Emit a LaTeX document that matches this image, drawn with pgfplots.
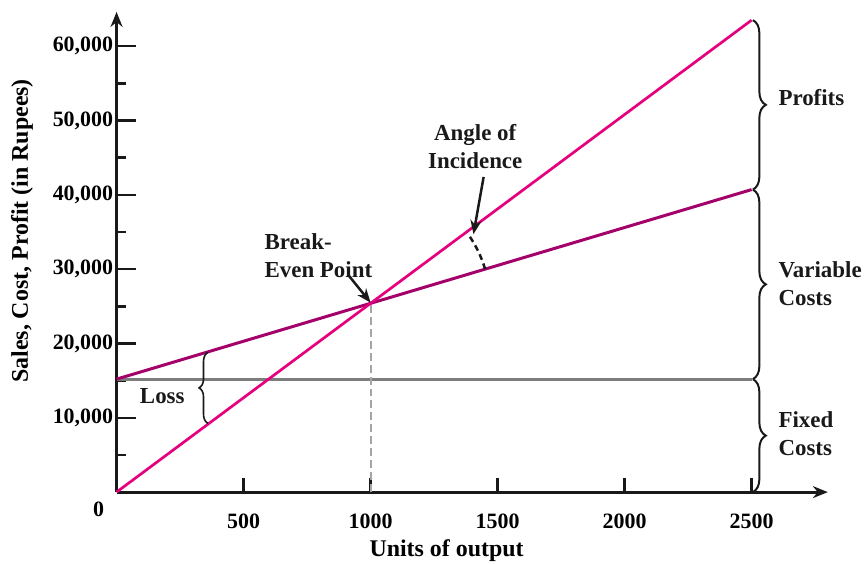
\documentclass[border=0pt]{standalone}
\usepackage{fontspec}
\setmainfont{Liberation Serif}
\usepackage{pgfplots}
\pgfplotsset{compat=1.18}
\usetikzlibrary{arrows.meta,decorations.pathreplacing}
\definecolor{salesc}{RGB}{230,0,126}
\definecolor{costc}{RGB}{163,0,105}
\definecolor{fixc}{RGB}{125,125,125}
\definecolor{bep}{RGB}{165,165,165}
\begin{document}
\begin{tikzpicture}
\begin{axis}[
  scale only axis, width=714pt, height=482pt,
  xmin=0, xmax=2800, ymin=0, ymax=64600,
  scaled y ticks=false, scaled x ticks=false,
  axis lines=left,
  axis line style={line width=3pt, black!90, -{Stealth[length=15pt,width=12pt]}},
  clip=false,
  xtick={500,1000,1500,2000,2500},
  xticklabels={500,1000,1500,2000,2500},
  ytick={0,10000,20000,30000,40000,50000,60000},
  yticklabels={\raisebox{-24pt}[0pt][0pt]{\makebox[20pt][l]{0}},{10,000},{20,000},{30,000},{40,000},{50,000},{60,000}},
  minor ytick={5000,15000,25000,35000,45000,55000},
  tick align=inside,
  major tick length=20pt, minor tick length=9pt,
  xtick style={/pgfplots/major tick length=14pt},
  tick style={line width=2.5pt, black!90},
  tick label style={font=\fontsize{22}{24}\selectfont\bfseries},
  xticklabel style={yshift=-18pt},
  label style={font=\fontsize{24}{28}\selectfont\bfseries},
  x label style={at={(axis description cs:0.464,-0.122)}, anchor=center},
  y label style={at={(axis description cs:-0.133,0.544)}, anchor=center, rotate=0},
  xlabel={Units of output},
  ylabel={Sales, Cost, Profit (in Rupees)},
]
\coordinate (O) at (axis cs:0,0);
\addplot[fixc, line width=3pt] coordinates {(0,15200) (2500,15200)};
\addplot[bep, line width=2pt, dash pattern=on 8pt off 4pt] coordinates {(1000,0) (1000,25400)};
\addplot[costc, line width=3pt] coordinates {(0,15200) (2500,40700)};
\addplot[salesc, line width=2.7pt] coordinates {(0,0) (2500,63500)};

% braces on the right
\draw[decorate, decoration={brace, amplitude=13pt}, line width=2pt, black!90] (axis cs:2505,63500) -- (axis cs:2505,40700);
\draw[decorate, decoration={brace, amplitude=13pt}, line width=2pt, black!90] (axis cs:2505,40700) -- (axis cs:2505,15200);
\draw[decorate, decoration={brace, amplitude=13pt}, line width=2pt, black!90] (axis cs:2505,15200) -- (axis cs:2505,0);
% loss brace
\draw[decorate, decoration={brace, amplitude=9pt}, line width=1.6pt, black!90] (axis cs:360,9250) -- (axis cs:360,18800);

\begin{scope}[font=\fontsize{23}{28}\selectfont\bfseries, text=black!90]
\node[anchor=west] at (axis cs:2592,53080) {Profits};
\node[anchor=west, align=left] at (axis cs:2592,28016) {Variable\\Costs};
\node[anchor=west, align=left] at (axis cs:2592,7909) {Fixed\\Costs};
\node at (axis cs:180,12870) {Loss};
\node[anchor=west, align=left] at (axis cs:569,31770) {Break-\\Even Point};
\node[align=center] at (axis cs:1412,46510) {Angle of\\Incidence};
\end{scope}

% arrows
\draw[line width=2.5pt, black!90, -{Stealth[length=14pt,width=11pt]}] (axis cs:910,29300) -- (axis cs:1000,25500);
\draw[line width=2.5pt, black!90, -{Stealth[length=14pt,width=11pt]}] (axis cs:1445,42400) -- (axis cs:1405,34700);
% angle arc
\draw[line width=2.5pt, black!90, dash pattern=on 6pt off 4pt] (axis cs:1000,25400) ++(16.6:120pt) arc[start angle=16.6, end angle=35.5, radius=120pt];
\end{axis}
\path (O) ++(-117pt,-66pt) rectangle ++(865pt,560pt);
\end{tikzpicture}
\end{document}
